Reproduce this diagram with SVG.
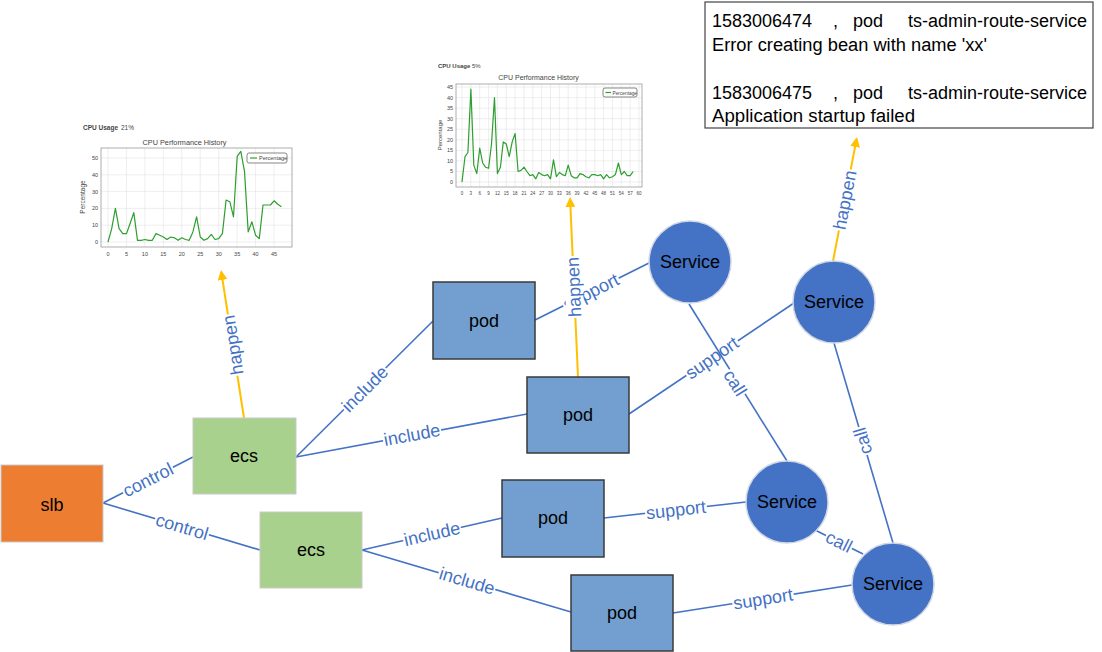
<svg xmlns="http://www.w3.org/2000/svg" width="1102" height="652" viewBox="0 0 1102 652">
<style>
text{font-family:"Liberation Sans",Arial,sans-serif}
.edge{stroke:#4472C4;stroke-width:1.6;fill:none}
.hap{stroke:#FFC000;stroke-width:2;fill:none}
.lbl{font-size:18px;fill:#4472C4;text-anchor:middle}
.bg{fill:#fff}
.node{font-size:18px;fill:#000;text-anchor:middle}
.slb{fill:#ED7D31;stroke:#C9C9C9;stroke-width:1}
.ecs{fill:#A9D18E;stroke:#C9C9C9;stroke-width:1}
.pod{fill:#729FCF;stroke:#3A3A3A;stroke-width:1.5}
.svc{fill:#4472C4;stroke:#D0D7E5;stroke-width:1.5}
.grid{stroke:#E3E3E3;stroke-width:0.6}
.frame{fill:none;stroke:#9A9A9A;stroke-width:0.8}
.cl{fill:none;stroke:#2E9E2E;stroke-width:1.2;stroke-linejoin:round}
.ct{fill:#444}
.tick{font-size:5.5px;fill:#444;text-anchor:middle}
.ytick{font-size:5.5px;fill:#444;text-anchor:end}
.tick2{font-size:4.5px;fill:#444;text-anchor:middle}
.box{font-size:18px;fill:#000}
</style>
<defs>
<marker id="ya" viewBox="0 0 10 10" refX="8" refY="5" markerWidth="10" markerHeight="10" markerUnits="userSpaceOnUse" orient="auto">
<path d="M0,0 L10,5 L0,10 z" fill="#FFC000"/>
</marker>
</defs>

<!-- chart 1 -->
<g id="chart1">
<text x="83" y="130" font-size="6.5" font-weight="bold" class="ct">CPU Usage</text>
<text x="121" y="130" font-size="6.5" class="ct">21%</text>
<text x="184.5" y="144.5" font-size="7.3" class="ct" text-anchor="middle">CPU Performance History</text>
<g class="grid">
<line x1="101" y1="242" x2="292" y2="242"/><line x1="101" y1="225.2" x2="292" y2="225.2"/><line x1="101" y1="208.4" x2="292" y2="208.4"/><line x1="101" y1="191.6" x2="292" y2="191.6"/><line x1="101" y1="174.8" x2="292" y2="174.8"/><line x1="101" y1="158" x2="292" y2="158"/>
<line x1="108" y1="148" x2="108" y2="247"/><line x1="126.45" y1="148" x2="126.45" y2="247"/><line x1="144.9" y1="148" x2="144.9" y2="247"/><line x1="163.35" y1="148" x2="163.35" y2="247"/><line x1="181.8" y1="148" x2="181.8" y2="247"/><line x1="200.25" y1="148" x2="200.25" y2="247"/><line x1="218.7" y1="148" x2="218.7" y2="247"/><line x1="237.15" y1="148" x2="237.15" y2="247"/><line x1="255.6" y1="148" x2="255.6" y2="247"/><line x1="274.05" y1="148" x2="274.05" y2="247"/>
</g>
<rect x="101" y="148" width="191" height="99" class="frame"/>
<polyline class="cl" points="108.0,242.0 111.7,228.6 115.4,208.4 119.1,228.6 122.8,233.6 126.5,233.6 130.1,223.5 133.8,212.6 137.5,240.3 141.2,240.3 144.9,239.5 148.6,240.3 152.3,240.3 156.0,233.6 159.7,235.3 163.4,237.0 167.0,239.5 170.7,237.0 174.4,237.8 178.1,240.3 181.8,237.8 185.5,239.5 189.2,240.3 192.9,231.9 196.6,216.8 200.3,237.0 203.9,240.3 207.6,238.6 211.3,234.4 215.0,239.5 218.7,238.6 222.4,233.6 226.1,200.0 229.8,201.7 233.5,216.8 237.2,156.3 240.8,151.3 244.5,171.4 248.2,231.9 251.9,221.8 255.6,235.3 259.3,238.6 263.0,205.0 266.7,205.0 270.4,205.0 274.1,200.8 277.7,204.2 281.4,206.7"/>
<text x="0" y="0" font-size="6.5" class="ct" text-anchor="middle" transform="translate(85,197) rotate(-90)">Percentage</text>
<text class="ytick" x="98" y="244">0</text><text class="ytick" x="98" y="227.2">10</text><text class="ytick" x="98" y="210.4">20</text><text class="ytick" x="98" y="193.6">30</text><text class="ytick" x="98" y="176.8">40</text><text class="ytick" x="98" y="160">50</text>
<text class="tick" x="108" y="256">0</text><text class="tick" x="126.45" y="256">5</text><text class="tick" x="144.9" y="256">10</text><text class="tick" x="163.35" y="256">15</text><text class="tick" x="181.8" y="256">20</text><text class="tick" x="200.25" y="256">25</text><text class="tick" x="218.7" y="256">30</text><text class="tick" x="237.15" y="256">35</text><text class="tick" x="255.6" y="256">40</text><text class="tick" x="274.05" y="256">45</text>
<rect x="247" y="153" width="40" height="10" rx="2" fill="#fff" stroke="#555" stroke-width="0.7"/>
<line x1="250" y1="158" x2="257" y2="158" stroke="#2E9E2E" stroke-width="1.2"/>
<text x="259" y="160" font-size="5.5" class="ct">Percentage</text>
</g>

<!-- chart 2 -->
<g id="chart2">
<text x="438" y="68" font-size="6" font-weight="bold" class="ct">CPU Usage</text>
<text x="472" y="68" font-size="6" class="ct">5%</text>
<text x="538.5" y="80" font-size="7" class="ct" text-anchor="middle">CPU Performance History</text>
<g class="grid">
<line x1="456" y1="182" x2="642" y2="182"/><line x1="456" y1="171.45" x2="642" y2="171.45"/><line x1="456" y1="160.9" x2="642" y2="160.9"/><line x1="456" y1="150.35" x2="642" y2="150.35"/><line x1="456" y1="139.8" x2="642" y2="139.8"/><line x1="456" y1="129.25" x2="642" y2="129.25"/><line x1="456" y1="118.7" x2="642" y2="118.7"/><line x1="456" y1="108.15" x2="642" y2="108.15"/><line x1="456" y1="97.6" x2="642" y2="97.6"/><line x1="456" y1="87.05" x2="642" y2="87.05"/>
<line x1="462" y1="84" x2="462" y2="187"/><line x1="470.85" y1="84" x2="470.85" y2="187"/><line x1="479.7" y1="84" x2="479.7" y2="187"/><line x1="488.55" y1="84" x2="488.55" y2="187"/><line x1="497.4" y1="84" x2="497.4" y2="187"/><line x1="506.25" y1="84" x2="506.25" y2="187"/><line x1="515.1" y1="84" x2="515.1" y2="187"/><line x1="523.95" y1="84" x2="523.95" y2="187"/><line x1="532.8" y1="84" x2="532.8" y2="187"/><line x1="541.65" y1="84" x2="541.65" y2="187"/><line x1="550.5" y1="84" x2="550.5" y2="187"/><line x1="559.35" y1="84" x2="559.35" y2="187"/><line x1="568.2" y1="84" x2="568.2" y2="187"/><line x1="577.05" y1="84" x2="577.05" y2="187"/><line x1="585.9" y1="84" x2="585.9" y2="187"/><line x1="594.75" y1="84" x2="594.75" y2="187"/><line x1="603.6" y1="84" x2="603.6" y2="187"/><line x1="612.45" y1="84" x2="612.45" y2="187"/><line x1="621.3" y1="84" x2="621.3" y2="187"/><line x1="630.15" y1="84" x2="630.15" y2="187"/><line x1="639" y1="84" x2="639" y2="187"/>
</g>
<rect x="456" y="84" width="186" height="103" class="frame"/>
<polyline class="cl" points="462.0,182.0 465.0,156.7 467.9,152.5 470.9,89.2 473.8,165.1 476.8,173.6 479.7,148.2 482.7,163.0 485.6,167.2 488.6,168.3 491.5,144.0 494.5,97.6 497.4,173.6 500.4,167.2 503.3,141.9 506.3,144.0 509.2,156.7 512.2,141.9 515.1,133.5 518.1,171.5 521.0,170.4 524.0,167.2 526.9,171.5 529.9,175.7 532.8,174.6 535.8,178.8 538.7,172.5 541.7,174.6 544.6,175.7 547.6,174.6 550.5,178.8 553.5,159.8 556.4,176.7 559.4,172.5 562.3,174.6 565.3,175.7 568.2,165.1 571.2,175.7 574.1,177.8 577.1,177.8 580.0,173.6 583.0,174.6 585.9,176.7 588.9,177.8 591.8,174.6 594.8,174.6 597.7,175.7 600.7,174.6 603.6,178.8 606.6,174.6 609.5,177.8 612.5,176.7 615.4,174.6 618.4,163.0 621.3,174.6 624.3,171.5 627.2,175.7 630.2,175.7 633.1,171.5"/>
<text x="0" y="0" font-size="6" class="ct" text-anchor="middle" transform="translate(442,135) rotate(-90)">Percentage</text>
<text class="ytick" x="453" y="184">0</text><text class="ytick" x="453" y="173.4">5</text><text class="ytick" x="453" y="162.9">10</text><text class="ytick" x="453" y="152.3">15</text><text class="ytick" x="453" y="141.8">20</text><text class="ytick" x="453" y="131.2">25</text><text class="ytick" x="453" y="120.7">30</text><text class="ytick" x="453" y="110.1">35</text><text class="ytick" x="453" y="99.6">40</text><text class="ytick" x="453" y="89">45</text>
<text class="tick2" x="462" y="195">0</text><text class="tick2" x="470.85" y="195">3</text><text class="tick2" x="479.7" y="195">6</text><text class="tick2" x="488.55" y="195">9</text><text class="tick2" x="497.4" y="195">12</text><text class="tick2" x="506.25" y="195">15</text><text class="tick2" x="515.1" y="195">18</text><text class="tick2" x="523.95" y="195">21</text><text class="tick2" x="532.8" y="195">24</text><text class="tick2" x="541.65" y="195">27</text><text class="tick2" x="550.5" y="195">30</text><text class="tick2" x="559.35" y="195">33</text><text class="tick2" x="568.2" y="195">36</text><text class="tick2" x="577.05" y="195">39</text><text class="tick2" x="585.9" y="195">42</text><text class="tick2" x="594.75" y="195">45</text><text class="tick2" x="603.6" y="195">48</text><text class="tick2" x="612.45" y="195">51</text><text class="tick2" x="621.3" y="195">54</text><text class="tick2" x="630.15" y="195">57</text><text class="tick2" x="639" y="195">60</text>
<rect x="603" y="88" width="34" height="9" rx="2" fill="#fff" stroke="#555" stroke-width="0.7"/>
<line x1="605.5" y1="92.5" x2="611" y2="92.5" stroke="#2E9E2E" stroke-width="1.2"/>
<text x="612.5" y="94.5" font-size="4.8" class="ct">Percentage</text>
</g>

<!-- log box -->
<g id="logbox">
<rect x="705" y="2" width="388" height="126" fill="#fff" stroke="#444" stroke-width="1.2"/>
<text class="box" x="712" y="27">1583006474</text>
<text class="box" x="833" y="27">,</text>
<text class="box" x="853" y="27">pod</text>
<text class="box" x="1087" y="27" text-anchor="end">ts-admin-route-service</text>
<text class="box" x="712" y="51" textLength="275" lengthAdjust="spacingAndGlyphs">Error creating bean with name 'xx'</text>
<text class="box" x="712" y="99">1583006475</text>
<text class="box" x="833" y="99">,</text>
<text class="box" x="853" y="99">pod</text>
<text class="box" x="1087" y="99" text-anchor="end">ts-admin-route-service</text>
<text class="box" x="712" y="122" textLength="203" lengthAdjust="spacingAndGlyphs">Application startup failed</text>
</g>

<!-- connectors -->
<g id="connectors">
<line class="edge" x1="103" y1="503" x2="193" y2="457"/>
<line class="edge" x1="103" y1="503" x2="260" y2="550"/>
<line class="edge" x1="296" y1="457" x2="433" y2="321"/>
<line class="edge" x1="296" y1="457" x2="527" y2="414"/>
<line class="edge" x1="362" y1="550" x2="502" y2="518"/>
<line class="edge" x1="362" y1="550" x2="571" y2="612"/>
<line class="edge" x1="535" y1="320" x2="649" y2="263"/>
<line class="edge" x1="629" y1="414" x2="794" y2="303"/>
<line class="edge" x1="604" y1="518" x2="746" y2="502"/>
<line class="edge" x1="673" y1="613" x2="852" y2="585"/>
<line class="edge" x1="893" y1="543" x2="834" y2="343"/>
<line class="edge" x1="815" y1="530" x2="863" y2="554"/>
<line class="hap" x1="244" y1="418" x2="221.3" y2="272" marker-end="url(#ya)"/>
<line class="hap" x1="578" y1="377" x2="570.1" y2="199" marker-end="url(#ya)"/>
<line class="hap" x1="833" y1="261" x2="856.6" y2="139" marker-end="url(#ya)"/>

<g transform="translate(148,480) rotate(-27)"><rect class="bg" x="-28" y="-8" width="56" height="16"/><text class="lbl" y="6">control</text></g>
<g transform="translate(182,527) rotate(16.7)"><rect class="bg" x="-28" y="-8" width="56" height="16"/><text class="lbl" y="6">control</text></g>
<g transform="translate(365,389) rotate(-44.8)"><rect class="bg" x="-29.5" y="-8" width="59" height="16"/><text class="lbl" y="6">include</text></g>
<g transform="translate(412,435) rotate(-10.5)"><rect class="bg" x="-29.5" y="-8" width="59" height="16"/><text class="lbl" y="6">include</text></g>
<g transform="translate(432,534) rotate(-12.9)"><rect class="bg" x="-29.5" y="-8" width="59" height="16"/><text class="lbl" y="6">include</text></g>
<g transform="translate(467,581) rotate(16.5)"><rect class="bg" x="-29.5" y="-8" width="59" height="16"/><text class="lbl" y="6">include</text></g>
<g transform="translate(591,292) rotate(-26.8)"><rect class="bg" x="-31" y="-8" width="62" height="16"/><text class="lbl" y="6">support</text></g>
<g transform="translate(712,358) rotate(-34.5)"><rect class="bg" x="-31" y="-8" width="62" height="16"/><text class="lbl" y="6">support</text></g>
<g transform="translate(676,510) rotate(-6.4)"><rect class="bg" x="-31" y="-8" width="62" height="16"/><text class="lbl" y="6">support</text></g>
<g transform="translate(763,599) rotate(-8.9)"><rect class="bg" x="-31" y="-8" width="62" height="16"/><text class="lbl" y="6">support</text></g>
<line class="edge" x1="689" y1="304" x2="787" y2="461"/>
<g transform="translate(735,383) rotate(58)"><rect class="bg" x="-14.5" y="-8" width="29" height="16"/><text class="lbl" y="6">call</text></g>
<g transform="translate(863,441) rotate(-106.5)"><rect class="bg" x="-14.5" y="-8" width="29" height="16"/><text class="lbl" y="6">call</text></g>
<g transform="translate(839,542) rotate(26.6)"><rect class="bg" x="-14.5" y="-8" width="29" height="16"/><text class="lbl" y="6">call</text></g>
<g transform="translate(233,345) rotate(-98.8)"><rect class="bg" x="-31" y="-9" width="62" height="18"/><text class="lbl" y="6">happen</text></g>
<g transform="translate(574,287) rotate(-92.5)"><rect class="bg" x="-31" y="-9" width="62" height="18"/><text class="lbl" y="6">happen</text></g>
<g transform="translate(845,200) rotate(-79)"><rect class="bg" x="-31" y="-9" width="62" height="18"/><text class="lbl" y="6">happen</text></g>
</g>

<!-- nodes -->
<g id="slb"><rect class="slb" x="1" y="465" width="102" height="77"/><text class="node" x="52" y="511" font-size="20">slb</text></g>
<g id="ecs1"><rect class="ecs" x="193" y="418" width="103" height="76"/><text class="node" x="244" y="462" font-size="17">ecs</text></g>
<g id="ecs2"><rect class="ecs" x="260" y="512" width="102" height="76"/><text class="node" x="311" y="556" font-size="17">ecs</text></g>
<g id="pod1"><rect class="pod" x="433" y="282" width="102" height="77"/><text class="node" x="484" y="327">pod</text></g>
<g id="pod2"><rect class="pod" x="527" y="377" width="102" height="76"/><text class="node" x="578" y="421">pod</text></g>
<g id="pod3"><rect class="pod" x="502" y="480" width="102" height="77"/><text class="node" x="553" y="524">pod</text></g>
<g id="pod4"><rect class="pod" x="571" y="575" width="102" height="76"/><text class="node" x="622" y="619">pod</text></g>
<g id="service1"><circle class="svc" cx="690" cy="262" r="41"/><text class="node" x="690" y="268" font-size="17">Service</text></g>
<g id="service2"><circle class="svc" cx="834" cy="302" r="41"/><text class="node" x="834" y="308" font-size="17">Service</text></g>
<g id="service3"><circle class="svc" cx="787" cy="502" r="41"/><text class="node" x="787" y="508" font-size="17">Service</text></g>
<g id="service4"><circle class="svc" cx="893" cy="584" r="41"/><text class="node" x="893" y="590" font-size="17">Service</text></g>
</svg>
